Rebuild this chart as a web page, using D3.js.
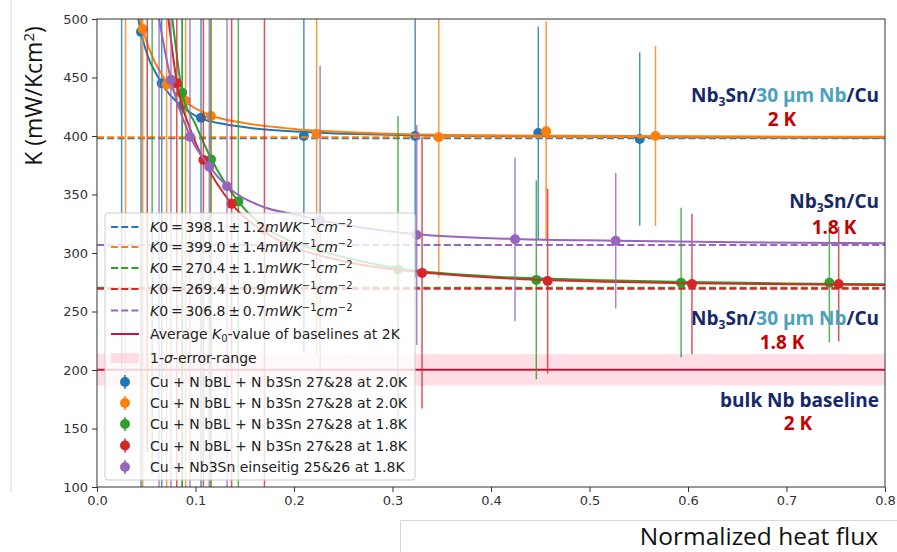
<!DOCTYPE html>
<html>
<head>
<meta charset="utf-8">
<script src="https://cdn.jsdelivr.net/npm/d3@7"></script>
<style>
  body { margin: 0; background: #fff; }
  svg { display: block; }
</style>
</head>
<body>
<div id="chart"></div>
<script>
// series (legend order)
const seriesLabels = [
  "Cu + N bBL + N b3Sn 27&28 at 2.0K",
  "Cu + N bBL + N b3Sn 27&28 at 2.0K",
  "Cu + N bBL + N b3Sn 27&28 at 1.8K",
  "Cu + N bBL + N b3Sn 27&28 at 1.8K",
  "Cu + Nb3Sn einseitig 25&26 at 1.8K"
];
const seriesColors = ["#1f77b4", "#ff7f0e", "#2ca02c", "#d62728", "#9467bd"];
const k0Values = [398.1, 399.0, 270.4, 269.4, 306.8];
const k0Errors = [1.2, 1.4, 1.1, 0.9, 0.7];

// measured points: heat flux, K, error
const blueX   = [0.025, 0.0447, 0.0657, 0.0865, 0.1056, 0.21, 0.323, 0.448, 0.551];
const blueK   = [700, 489, 445, 426, 415.6, 400, 400, 402.6, 397.4];
const blueErr = [500, 450, 400, 350, 320, 185, 121, 91, 74];

const orangeX   = [0.029, 0.0464, 0.0707, 0.090, 0.1157, 0.223, 0.347, 0.456, 0.567];
const orangeK   = [690, 491.5, 444, 430, 417, 401.7, 399, 404, 400];
const orangeErr = [500, 450, 400, 350, 330, 190, 120, 94, 77];

const greenX   = [0.056, 0.0865, 0.1157, 0.1435, 0.3056, 0.446, 0.593, 0.7435];
const greenK   = [560, 437, 380, 344, 286, 277, 274.6, 274.6];
const greenErr = [450, 400, 350, 300, 131, 85, 64, 51];

const redX   = [0.051, 0.081, 0.108, 0.1367, 0.17, 0.330, 0.4575, 0.604, 0.753];
const redK   = [580, 445, 379.5, 342, 320, 283, 276, 273.5, 273.5];
const redErr = [450, 400, 350, 300, 260, 116, 79, 60, 49];

const purpleX   = [0.063, 0.0751, 0.0944, 0.114, 0.132, 0.2265, 0.3246, 0.4244, 0.5266];
const purpleK   = [520, 448, 399.4, 373.8, 357, 328, 315.4, 311.7, 310.5];
const purpleErr = [450, 400, 350, 320, 300, 132, 94, 70, 58];

// fit curves
const blueFitX   = [0.0395, 0.042, 0.0447, 0.0657, 0.0865, 0.1056, 0.13, 0.16, 0.21, 0.3, 0.4, 0.6, 0.8];
const blueFitK   = [515, 500, 489, 445, 425, 415, 410, 406.5, 403.5, 401, 399.8, 398.9, 398.5];
const orangeFitX = [0.042, 0.0437, 0.0464, 0.0707, 0.09, 0.1157, 0.15, 0.2, 0.3, 0.4, 0.6, 0.8];
const orangeFitK = [512, 500, 491.5, 446, 429, 417.5, 411, 406, 402, 400.6, 399.7, 399.3];
const greenFitX  = [0.0735, 0.0765, 0.0865, 0.1, 0.1157, 0.1435, 0.17, 0.2, 0.23, 0.3056, 0.4, 0.5, 0.6, 0.7, 0.8];
const greenFitK  = [520, 500, 437, 410, 381, 344, 322, 309, 301, 287, 280, 277, 275.2, 274, 273.3];
const redFitX    = [0.0695, 0.0725, 0.081, 0.095, 0.108, 0.1367, 0.17, 0.2, 0.25, 0.33, 0.4, 0.5, 0.6, 0.7, 0.8];
const redFitK    = [520, 500, 446, 405, 380, 342, 318, 305, 293, 283.5, 279, 275.8, 274.2, 273.2, 272.6];
const purpleFitX = [0.0605, 0.063, 0.0751, 0.0944, 0.114, 0.132, 0.167, 0.2, 0.2265, 0.275, 0.3246, 0.4244, 0.5266, 0.65, 0.8];
const purpleFitK = [512, 500, 448, 400, 374, 357, 340, 333, 328, 321, 316, 312, 310.5, 309.2, 308.3];

// bulk Nb baseline at 2K
const baselineK = 200.2;
const baselineSigma = 13.4;

const xTicks = [0, 0.1, 0.2, 0.3, 0.4, 0.5, 0.6, 0.7, 0.8];
const yTicks = [100, 150, 200, 250, 300, 350, 400, 450, 500];

const series = [
  { x: blueX, k: blueK, err: blueErr, fx: blueFitX, fk: blueFitK },
  { x: orangeX, k: orangeK, err: orangeErr, fx: orangeFitX, fk: orangeFitK },
  { x: greenX, k: greenK, err: greenErr, fx: greenFitX, fk: greenFitK },
  { x: redX, k: redK, err: redErr, fx: redFitX, fk: redFitK },
  { x: purpleX, k: purpleK, err: purpleErr, fx: purpleFitX, fk: purpleFitK }
].map((s, i) => ({ ...s, color: seriesColors[i], k0: k0Values[i], k0err: k0Errors[i], label: seriesLabels[i] }));

const width = 897, height = 552;
const plotLeft = 97, plotRight = 885, plotTop = 19, plotBottom = 487;

const svg = d3.select("#chart").append("svg")
  .attr("width", width)
  .attr("height", height)
  .style("font-family", "'DejaVu Sans', sans-serif");

const x = d3.scaleLinear().domain([0, 0.8]).range([plotLeft, plotRight]);
const y = d3.scaleLinear().domain([100, 500]).range([plotBottom, plotTop]);

svg.append("clipPath").attr("id", "plot-clip")
  .append("rect")
  .attr("x", plotLeft).attr("y", plotTop)
  .attr("width", plotRight - plotLeft).attr("height", plotBottom - plotTop);

// faint frames of the pasted label boxes
svg.append("line").attr("x1", 11).attr("x2", 11).attr("y1", 0).attr("y2", 492)
  .attr("stroke", "#d8d8d8").attr("stroke-width", 1);
svg.append("path").attr("d", "M400.5,552 V520.5 H897")
  .attr("fill", "none").attr("stroke", "#d8d8d8").attr("stroke-width", 1);

const plot = svg.append("g").attr("clip-path", "url(#plot-clip)");

// 1-sigma band + baseline
plot.append("rect")
  .attr("x", plotLeft).attr("width", plotRight - plotLeft)
  .attr("y", y(baselineK + baselineSigma))
  .attr("height", y(baselineK - baselineSigma) - y(baselineK + baselineSigma))
  .attr("fill", "#ffc0cb").attr("fill-opacity", 0.5);
plot.append("line")
  .attr("x1", plotLeft).attr("x2", plotRight)
  .attr("y1", y(baselineK)).attr("y2", y(baselineK))
  .attr("stroke", "#c8143c").attr("stroke-width", 2);

const fitLine = d3.line().x(d => x(d[0])).y(d => y(d[1])).curve(d3.curveMonotoneX);

series.forEach(s => {
  const pts = s.x.map((v, i) => ({ x: v, k: s.k[i], e: s.err[i] }));
  const g = plot.append("g");

  g.selectAll("line.err")
    .data(pts)
    .join("line")
    .attr("class", "err")
    .attr("x1", d => x(d.x)).attr("x2", d => x(d.x))
    .attr("y1", d => y(d.k + d.e)).attr("y2", d => y(d.k - d.e))
    .attr("stroke", s.color).attr("stroke-width", 1.5).attr("stroke-opacity", 0.8);

  g.selectAll("circle")
    .data(pts)
    .join("circle")
    .attr("cx", d => x(d.x)).attr("cy", d => y(d.k))
    .attr("r", 5)
    .attr("fill", s.color);

  g.append("path")
    .datum(s.fx.map((v, i) => [v, s.fk[i]]))
    .attr("d", fitLine)
    .attr("fill", "none")
    .attr("stroke", s.color).attr("stroke-width", 2);

  g.append("line")
    .attr("x1", plotLeft).attr("x2", plotRight)
    .attr("y1", y(s.k0)).attr("y2", y(s.k0))
    .attr("stroke", s.color).attr("stroke-width", 2)
    .attr("stroke-dasharray", "7,3.2");
});

// axes
const xAxis = svg.append("g")
  .attr("transform", `translate(0,${plotBottom})`)
  .call(d3.axisBottom(x).tickValues(xTicks).tickFormat(d3.format(".1f")).tickSize(5).tickPadding(4));
const yAxis = svg.append("g")
  .attr("transform", `translate(${plotLeft},0)`)
  .call(d3.axisLeft(y).tickValues(yTicks).tickSize(5).tickPadding(4));
[xAxis, yAxis].forEach(a => {
  a.select(".domain").remove();
  a.selectAll("text").attr("fill", "#333").style("font-size", "13px").style("font-family", "'DejaVu Sans', sans-serif");
  a.selectAll("line").attr("stroke", "#333");
});
svg.append("rect")
  .attr("x", plotLeft).attr("y", plotTop)
  .attr("width", plotRight - plotLeft).attr("height", plotBottom - plotTop)
  .attr("fill", "none").attr("stroke", "#333").attr("stroke-width", 1);

// legend
const lg = svg.append("g").attr("transform", "translate(105,213)");
lg.append("rect")
  .attr("width", 310).attr("height", 267).attr("rx", 3)
  .attr("fill", "#fff").attr("fill-opacity", 0.8)
  .attr("stroke", "#ccc");

const rowY = [14, 34, 55, 76, 97.5, 121, 145, 169, 190, 211, 232.5, 254];
const textX = 45;
const fs = 14;

series.forEach((s, i) => {
  const yy = rowY[i];
  lg.append("line")
    .attr("x1", 6).attr("x2", 34).attr("y1", yy).attr("y2", yy)
    .attr("stroke", s.color).attr("stroke-width", 2).attr("stroke-dasharray", "7,3.2");
  const t = lg.append("text").attr("x", textX).attr("y", yy + 5).style("font-size", fs + "px").attr("fill", "#222");
  t.append("tspan").style("font-style", "italic").text("K");
  t.append("tspan").text("0\u2009=\u2009" + s.k0.toFixed(1) + "\u2009\u00b1\u2009" + s.k0err.toFixed(1));
  t.append("tspan").style("font-style", "italic").text("mWK");
  t.append("tspan").attr("dy", -5).style("font-size", "10px").text("\u22121");
  t.append("tspan").attr("dy", 5).style("font-style", "italic").text("cm");
  t.append("tspan").attr("dy", -5).style("font-size", "10px").text("\u22122");
});

// average baseline entry
lg.append("line").attr("x1", 6).attr("x2", 34).attr("y1", rowY[5]).attr("y2", rowY[5])
  .attr("stroke", "#c8143c").attr("stroke-width", 2);
const avg = lg.append("text").attr("x", textX).attr("y", rowY[5] + 5).style("font-size", fs + "px").attr("fill", "#222");
avg.append("tspan").text("Average ");
avg.append("tspan").style("font-style", "italic").text("K");
avg.append("tspan").attr("dy", 3).style("font-size", "10px").text("0");
avg.append("tspan").attr("dy", -3).text("-value of baselines at 2K");

// sigma band entry
lg.append("rect").attr("x", 6).attr("y", rowY[6] - 5).attr("width", 28).attr("height", 10)
  .attr("fill", "#ffc0cb").attr("fill-opacity", 0.5);
const sig = lg.append("text").attr("x", textX).attr("y", rowY[6] + 5).style("font-size", fs + "px").attr("fill", "#222");
sig.append("tspan").text("1-");
sig.append("tspan").style("font-style", "italic").text("\u03c3");
sig.append("tspan").text("-error-range");

// errorbar entries
series.forEach((s, i) => {
  const yy = rowY[7 + i];
  lg.append("line").attr("x1", 20).attr("x2", 20).attr("y1", yy - 7).attr("y2", yy + 7)
    .attr("stroke", s.color).attr("stroke-width", 1.5);
  lg.append("circle").attr("cx", 20).attr("cy", yy).attr("r", 5).attr("fill", s.color);
  lg.append("text").attr("x", textX).attr("y", yy + 5).style("font-size", fs + "px").attr("fill", "#222")
    .text(s.label);
});

// axis titles
svg.append("text")
  .attr("transform", "translate(42,96) rotate(-90)")
  .attr("text-anchor", "middle")
  .style("font-family", "'Open Sans', sans-serif")
  .style("font-size", "23px")
  .attr("fill", "#111")
  .call(t => {
    t.append("tspan").text("K (mW/Kcm");
    t.append("tspan").attr("dy", -8).style("font-size", "15px").text("2");
    t.append("tspan").attr("dy", 8).text(")");
  });

svg.append("text")
  .attr("x", 878).attr("y", 545)
  .attr("text-anchor", "end")
  .style("font-family", "'Open Sans', sans-serif")
  .style("font-size", "24.5px")
  .attr("fill", "#111")
  .text("Normalized heat flux");

// annotations
const navy = "#14286a", teal = "#4aa0c0", red = "#c40000";
const annoFont = "'Open Sans', sans-serif";

function nbLabel(yBase, withNb) {
  const t = svg.append("text")
    .attr("x", 879).attr("y", yBase)
    .attr("text-anchor", "end")
    .style("font-family", annoFont).style("font-weight", 700).style("font-size", "19px")
    .attr("fill", navy);
  t.append("tspan").text("Nb");
  t.append("tspan").attr("dy", 4).style("font-size", "12px").text("3");
  t.append("tspan").attr("dy", -4).text("Sn/");
  if (withNb) {
    t.append("tspan").attr("fill", teal).text("30 \u00b5m Nb");
    t.append("tspan").text("/Cu");
  } else {
    t.append("tspan").text("Cu");
  }
}
function tempLabel(cx, yBase, txt) {
  svg.append("text")
    .attr("x", cx).attr("y", yBase)
    .attr("text-anchor", "middle")
    .style("font-family", annoFont).style("font-weight", 700).style("font-size", "19px")
    .attr("fill", red)
    .text(txt);
}

nbLabel(102, true);
tempLabel(782, 126, "2 K");
nbLabel(208, false);
tempLabel(834, 234, "1.8 K");
nbLabel(325, true);
tempLabel(782, 349, "1.8 K");
svg.append("text")
  .attr("x", 879).attr("y", 407)
  .attr("text-anchor", "end")
  .style("font-family", annoFont).style("font-weight", 700).style("font-size", "19px")
  .attr("fill", navy)
  .text("bulk Nb baseline");
tempLabel(798, 430, "2 K");
</script>
</body>
</html>
